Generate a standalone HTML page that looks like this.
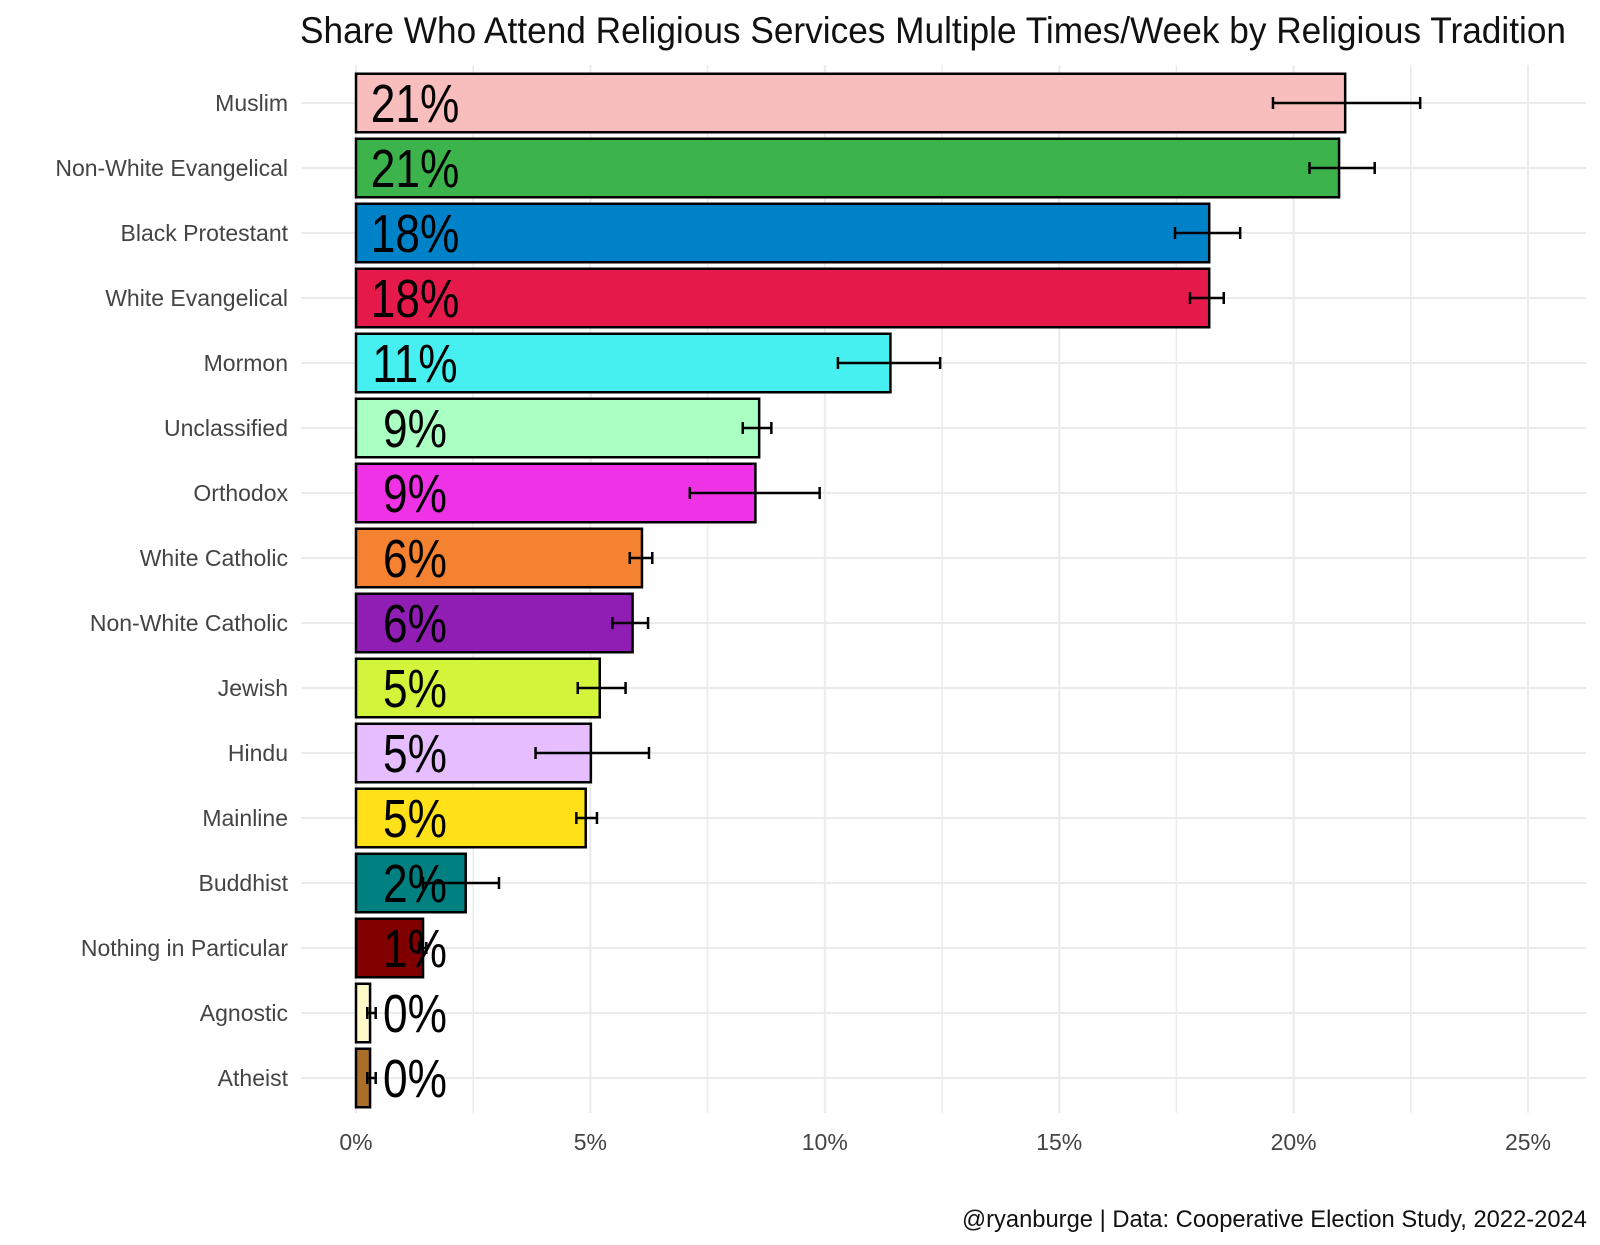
<!DOCTYPE html>
<html><head><meta charset="utf-8">
<style>
html,body{margin:0;padding:0;background:#fff;}
svg{display:block;font-family:"Liberation Sans Narrow","Liberation Sans",sans-serif;}
</style></head>
<body>
<svg id="chart" width="1600" height="1245" viewBox="0 0 1600 1245" xmlns="http://www.w3.org/2000/svg">
<text x="933" y="43" text-anchor="middle" font-size="37" fill="#111" textLength="1266" lengthAdjust="spacingAndGlyphs">Share Who Attend Religious Services Multiple Times/Week by Religious Tradition</text>
<g id="grid"></g>
<g id="bars"></g>
<g id="labels"></g>
<text x="1587" y="1227" text-anchor="end" font-size="24" fill="#111" textLength="625" lengthAdjust="spacingAndGlyphs">@ryanburge | Data: Cooperative Election Study, 2022-2024</text>
</svg>
<script>
const categories = ["Muslim","Non-White Evangelical","Black Protestant","White Evangelical","Mormon","Unclassified","Orthodox","White Catholic","Non-White Catholic","Jewish","Hindu","Mainline","Buddhist","Nothing in Particular","Agnostic","Atheist"];
const values = [21.1,20.97,18.2,18.2,11.4,8.6,8.52,6.1,5.9,5.2,5.01,4.9,2.34,1.43,0.3,0.3];
const errLow = [19.56,20.34,17.47,17.79,10.28,8.25,7.12,5.84,5.47,4.73,3.83,4.7,1.43,1.35,0.24,0.24];
const errHigh = [22.7,21.73,18.86,18.51,12.46,8.86,9.89,6.32,6.23,5.75,6.25,5.14,3.05,1.5,0.42,0.42];
const printed = ["21%","21%","18%","18%","11%","9%","9%","6%","6%","5%","5%","5%","2%","1%","0%","0%"];
const colors = ["#F8BDBD","#3CB44B","#0082C8","#E6194B","#46F0F0","#AAFFC3","#F032E6","#F58231","#911EB4","#D2F53C","#E6BEFF","#FFE119","#008080","#800000","#FFFAC8","#AA6E28"];
const ticks = [0,5,10,15,20,25];
const tickLabels = ["0%","5%","10%","15%","20%","25%"];

const NS="http://www.w3.org/2000/svg";
const x = v => 356 + v*46.88;
const y = i => 103 + i*65;
const bandH = 58.5;
const grid=document.getElementById('grid'), bars=document.getElementById('bars'), labels=document.getElementById('labels');
function mk(tag, attrs, parent){const e=document.createElementNS(NS,tag);for(const k in attrs)e.setAttribute(k,attrs[k]);parent.appendChild(e);return e;}

for(let v=0; v<=27.5; v+=2.5){
  const l=mk('line',{x1:x(v),x2:x(v),y1:65,y2:1113,stroke:'#ebebeb','stroke-width':(v%5===0)?2:1.5},grid);
  
  
}
categories.forEach((c,i)=>{
  const l=mk('line',{x1:301,x2:1586,y1:y(i),y2:y(i),stroke:'#ebebeb','stroke-width':2},grid);
  
  
  const t=mk('text',{x:288,y:y(i)+8,'text-anchor':'end','font-size':23,fill:'#444'},labels);
  t.textContent=c;
  
  
});
ticks.forEach((v,k)=>{
  const t=mk('text',{x:x(v),y:1150,'text-anchor':'middle','font-size':23,fill:'#444'},labels);
  t.textContent=tickLabels[k];
  
  
});
categories.forEach((c,i)=>{
  const r=mk('rect',{x:x(0),y:y(i)-bandH/2,width:x(values[i])-x(0),height:bandH,fill:colors[i],stroke:'#000','stroke-width':2.5},bars);
  
  
  const t=mk('text',{x:0,y:0,'text-anchor':'middle','font-size':54,fill:'#000',transform:'translate(415,'+(y(i)+19)+') scale(0.82,1)'},bars);
  t.textContent=printed[i];
  
  
  const g=mk('g',{stroke:'#000','stroke-width':2.5},bars);
  
  
  mk('line',{x1:x(errLow[i]),x2:x(errHigh[i]),y1:y(i),y2:y(i)},g);
  mk('line',{x1:x(errLow[i]),x2:x(errLow[i]),y1:y(i)-6,y2:y(i)+6},g);
  mk('line',{x1:x(errHigh[i]),x2:x(errHigh[i]),y1:y(i)-6,y2:y(i)+6},g);
});
</script>
</body></html>
